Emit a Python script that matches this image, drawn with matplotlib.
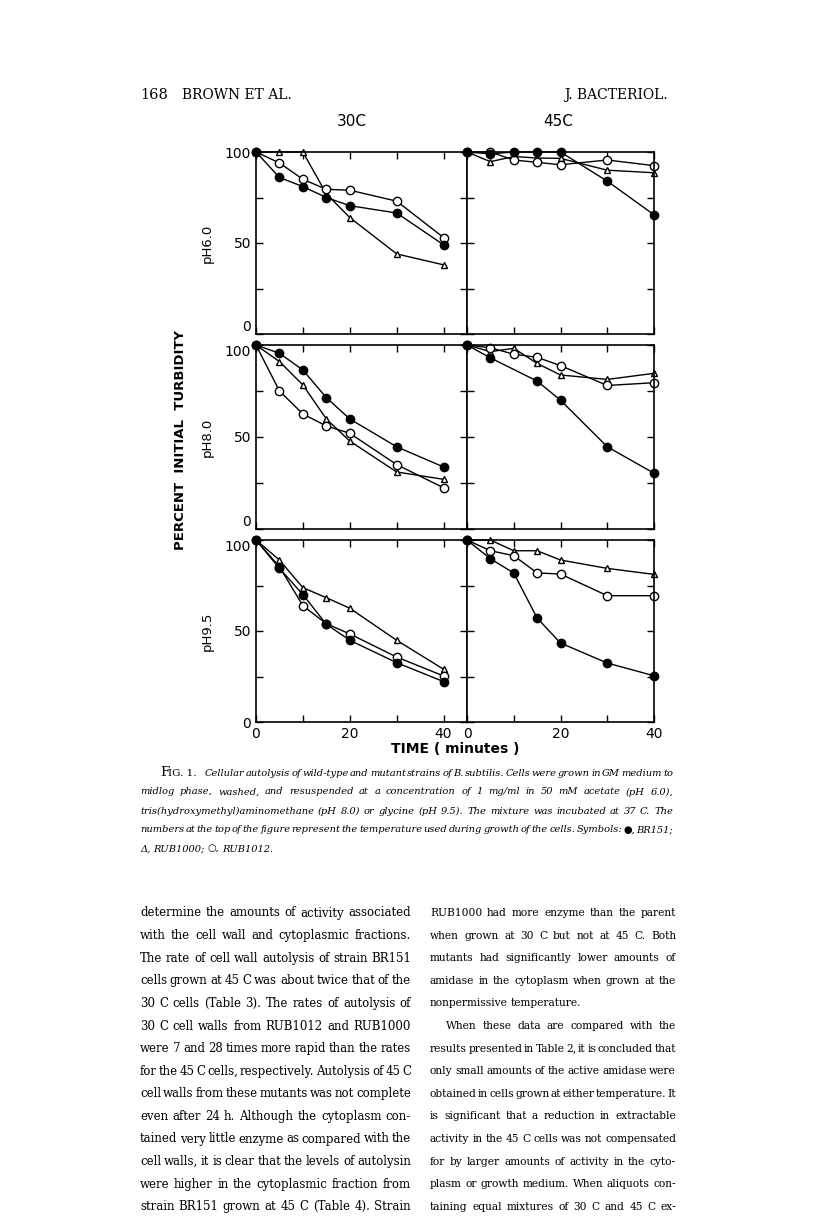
import numpy as np
import matplotlib
matplotlib.use("Agg")
import matplotlib.pyplot as plt

W, H = 816, 1227

# sampling times (minutes)
times = [0, 5, 10, 15, 20, 30, 40]

# percent initial turbidity; series: BR151 (filled), RUB1000 (triangle), RUB1012 (open)
ph60_30_br151 = [100, 86, 81, 75, 70.5, 66.5, 49]
ph60_30_rub1000 = [100, 100, 100, 77, 64, 44, 38]
ph60_30_rub1012 = [100, 94, 85, 79.5, 79, 73, 53]
ph60_45_br151 = [100, 99, 100, 100, 100, 84, 65.5]
ph60_45_rub1000 = [100, 94.7, 97.5, 96.7, 96.5, 90, 88.6]
ph60_45_rub1012 = [100, 100, 95.6, 94.3, 93, 95.6, 92.5]

ph80_30_br151 = [100, 95.5, 86.4, 71.4, 59.8, 44.7, 33.7]
ph80_30_rub1000 = [100, 91, 78.3, 59.8, 47.8, 31, 27]
ph80_30_rub1012 = [100, 75, 62.5, 56, 52, 35, 22.4]
ph80_45_br151 = [100, 93, np.nan, 80.4, 70, 44.7, 30.3]
ph80_45_rub1000 = [100, 96.4, 98.2, 90, 83.7, 81.3, 84.6]
ph80_45_rub1012 = [100, 98.5, 95, 93.3, 88.8, 78, 79.5]

ph95_30_br151 = [100, 84.4, 70, 53.7, 44.9, 32.6, 22.2]
ph95_30_rub1000 = [100, 89, 73.8, 68.3, 62.5, 44.9, 29]
ph95_30_rub1012 = [100, 85.3, 63.9, 54, 48.4, 35.7, 25.3]
ph95_45_br151 = [100, 89.7, 81.9, 57.1, 43.4, 32.4, 25.4]
ph95_45_rub1000 = [100, 100, 94.1, 94.1, 89, 84.4, 81.1]
ph95_45_rub1012 = [100, 94.1, 91.4, 81.9, 81.3, 69.4, 69.4]

ph_labels = ["pH6.0", "pH8.0", "pH9.5"]
temp_labels = ["30C", "45C"]

panels = [
    [(ph60_30_br151, ph60_30_rub1000, ph60_30_rub1012), (ph60_45_br151, ph60_45_rub1000, ph60_45_rub1012)],
    [(ph80_30_br151, ph80_30_rub1000, ph80_30_rub1012), (ph80_45_br151, ph80_45_rub1000, ph80_45_rub1012)],
    [(ph95_30_br151, ph95_30_rub1000, ph95_30_rub1012), (ph95_45_br151, ph95_45_rub1000, ph95_45_rub1012)],
]

caption = [
    "Cellular autolysis of wild-type and mutant strains of B. subtilis. Cells were grown in GM medium to",
    "midlog phase, washed, and resuspended at a concentration of 1 mg/ml in 50 mM acetate (pH 6.0),",
    "tris(hydroxymethyl)aminomethane (pH 8.0) or glycine (pH 9.5). The mixture was incubated at 37 C. The",
    "numbers at the top of the figure represent the temperature used during growth of the cells. Symbols: \u25cf, BR151;",
    "\u0394, RUB1000; \u25cb, RUB1012.",
]

body_left = [
    "determine the amounts of activity associated",
    "with the cell wall and cytoplasmic fractions.",
    "The rate of cell wall autolysis of strain BR151",
    "cells grown at 45 C was about twice that of the",
    "30 C cells (Table 3). The rates of autolysis of",
    "30 C cell walls from RUB1012 and RUB1000",
    "were 7 and 28 times more rapid than the rates",
    "for the 45 C cells, respectively. Autolysis of 45 C",
    "cell walls from these mutants was not complete",
    "even after 24 h. Although the cytoplasm con-",
    "tained very little enzyme as compared with the",
    "cell walls, it is clear that the levels of autolysin",
    "were higher in the cytoplasmic fraction from",
    "strain BR151 grown at 45 C (Table 4). Strain",
]
body_right = [
    "RUB1000 had more enzyme than the parent",
    "when grown at 30 C but not at 45 C. Both",
    "mutants had significantly lower amounts of",
    "amidase in the cytoplasm when grown at the",
    "nonpermissive temperature.",
    "When these data are compared with the",
    "results presented in Table 2, it is concluded that",
    "only small amounts of the active amidase were",
    "obtained in cells grown at either temperature. It",
    "is significant that a reduction in extractable",
    "activity in the 45 C cells was not compensated",
    "for by larger amounts of activity in the cyto-",
    "plasm or growth medium. When aliquots con-",
    "taining equal mixtures of 30 C and 45 C ex-",
]

fig = plt.figure(figsize=(W / 100, H / 100), dpi=100)
fig.patch.set_facecolor("white")


def px_axes(x0, y0, x1, y1):
    return fig.add_axes([x0 / W, 1 - y1 / H, (x1 - x0) / W, (y1 - y0) / H])


cols = [(256, 467, 45), (467, 654, 40)]
rows = [(152, 334), (345, 529), (540, 722)]
sans = "DejaVu Sans"

for i, (y0, y1) in enumerate(rows):
    for j, (x0, x1, xmax) in enumerate(cols):
        ax = px_axes(x0, y0, x1, y1)
        ax.set_xlim(0, xmax)
        ax.set_ylim(0, 100)
        ax.set_xticks([0, 10, 20, 30, 40])
        ax.set_yticks([0, 25, 50, 75, 100])
        ax.tick_params(direction="in", length=5, width=1, top=True, right=True,
                       labelsize=10, colors="black")
        for s in ax.spines.values():
            s.set_linewidth(1.2)
        if j == 0:
            labs = ax.set_yticklabels(["0", "", "50", "", "100"], family=sans)
            if i < 2:
                labs[0].set_va("bottom")
            if i > 0:
                labs[4].set_va("top")
        else:
            ax.set_yticklabels([])
        if i == 2:
            ax.set_xticklabels(["0", "", "20", "", "40"], family=sans)
        else:
            ax.set_xticklabels([])
        br, rub1000, rub1012 = panels[i][j]
        x = np.array(times, float)
        for vals, mk, fc, ms in [(rub1000, "^", "white", 5),
                                 (rub1012, "o", "white", 6),
                                 (br, "o", "black", 6)]:
            y = np.array(vals, float)
            m = ~np.isnan(y)
            ax.plot(x[m], y[m], color="black", lw=1, marker=mk, ms=ms,
                    mfc=fc, mec="black", mew=1, clip_on=False)
        if j == 0:
            fig.text(207 / W, 1 - (y0 + y1) / 2 / H, ph_labels[i], rotation=90,
                     ha="center", va="center", fontsize=9.5, family=sans)

fig.text(352 / W, 1 - 122 / H, temp_labels[0], ha="center", va="center", fontsize=11, family=sans)
fig.text(558 / W, 1 - 122 / H, temp_labels[1], ha="center", va="center", fontsize=11, family=sans)
fig.text(181 / W, 1 - 440 / H, "PERCENT  INITIAL  TURBIDITY", rotation=90,
         ha="center", va="center", fontsize=9.5, family=sans, weight="bold")
fig.text(455 / W, 1 - 749 / H, "TIME ( minutes )", ha="center", va="center",
         fontsize=10, family=sans, weight="bold")

serif = "DejaVu Serif"
fig.text(140 / W, 1 - 95 / H, "168", ha="left", va="center", fontsize=10.5, family=serif)
fig.text(182 / W, 1 - 95 / H, "BROWN ET AL.", ha="left", va="center", fontsize=10, family=serif)
fig.text(668 / W, 1 - 95 / H, "J. BACTERIOL.", ha="right", va="center", fontsize=10, family=serif)

renderer = fig.canvas.get_renderer()


def word_widths(words, **kw):
    ts = [fig.text(0, 0, w, **kw) for w in words]
    ws = [t.get_window_extent(renderer).width for t in ts]
    for t in ts:
        t.remove()
    return ws


def block_size(lines, spans, start, gapf=0.2, **kw):
    # one font size for a whole block: the largest at which every line fits
    size = start
    while size > 6:
        if all(sum(word_widths(l.split(), fontsize=size, **kw)) + (len(l.split()) - 1) * size * gapf
               <= b - a for l, (a, b) in zip(lines, spans)):
            break
        size -= 0.1
    return size


def put_line(text, x0, x1, y, size, justify=True, **kw):
    words = text.split()
    ws = word_widths(words, fontsize=size, **kw)
    if justify and len(words) > 1:
        gap = (x1 - x0 - sum(ws)) / (len(words) - 1)
    else:
        gap = size * 0.4
    x = x0
    for w, ww in zip(words, ws):
        fig.text(x / W, 1 - y / H, w, ha="left", va="center", fontsize=size, **kw)
        x += ww + gap


fig.text(160 / W, 1 - 773 / H, "F", ha="left", va="center", fontsize=9.5, family=serif)
fig.text(168 / W, 1 - 773 / H, "IG. 1.", ha="left", va="center", fontsize=7.5, family=serif)
cap_y = [773, 792, 811, 830, 849]
cap_spans = [(205, 673)] + [(140, 673)] * 4
cap_size = block_size(caption, cap_spans, 9.5, gapf=0.15, family=serif, style="italic")
for k, line in enumerate(caption):
    a, b = cap_spans[k]
    put_line(line, a, b, cap_y[k], cap_size, justify=(k < len(caption) - 1),
             family=serif, style="italic")

spans_l = [(140, 411)] * len(body_left)
spans_r = [(446, 676) if k == 5 else (430, 676) for k in range(len(body_right))]
size_l = block_size(body_left, spans_l, 10.5, gapf=0.2, family=serif)
size_r = block_size(body_right, spans_r, 10.5, gapf=0.1, family=serif)
for k in range(len(body_left)):
    y = 913 + k * 22.6
    put_line(body_left[k], 140, 411, y, size_l, justify=True, family=serif)
    a, b = spans_r[k]
    put_line(body_right[k], a, b, y, size_r, justify=(k != 4), family=serif)

fig.savefig("out.png", dpi=100, facecolor="white")
